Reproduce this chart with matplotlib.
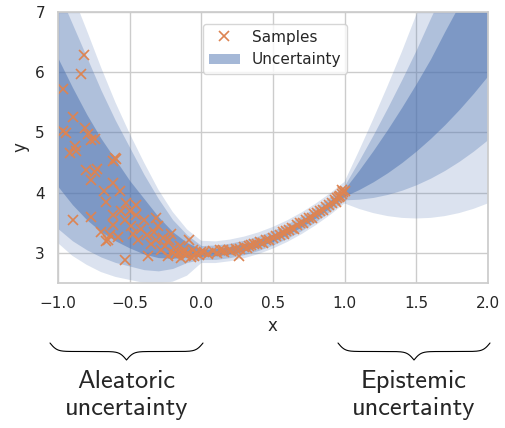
import os
import numpy as np
import matplotlib
matplotlib.use("Agg")
import matplotlib.pyplot as plt
import matplotlib.font_manager as fm
from matplotlib.lines import Line2D
from matplotlib.patches import Patch
import seaborn as sns

# band edges, x grid in steps of 0.1
x_grid = [-1.0, -0.9, -0.8, -0.7, -0.6, -0.5, -0.4, -0.3, -0.2, -0.1, 0.0,
          0.1, 0.2, 0.3, 0.4, 0.5, 0.6, 0.7, 0.8, 0.9, 1.0,
          1.1, 1.2, 1.3, 1.4, 1.5, 1.6, 1.7, 1.8, 1.9, 2.0]

outer_lo = [3.16, 2.95, 2.80, 2.68, 2.60, 2.55, 2.50, 2.49, 2.52, 2.62, 2.83,
            2.83, 2.86, 2.91, 2.98, 3.07, 3.18, 3.31, 3.46, 3.63, 3.82,
            3.73, 3.66, 3.61, 3.58, 3.57, 3.58, 3.61, 3.66, 3.73, 3.82]
outer_hi = [7.75, 7.30, 6.70, 6.08, 5.50, 4.98, 4.50, 4.05, 3.68, 3.39, 3.20,
            3.19, 3.22, 3.27, 3.34, 3.43, 3.54, 3.67, 3.82, 3.99, 4.18,
            4.69, 5.22, 5.77, 6.34, 6.95, 7.54, 8.17, 8.82, 9.49, 10.18]

mid_lo = [3.40, 3.20, 3.05, 2.93, 2.84, 2.78, 2.72, 2.70, 2.74, 2.84, 2.89,
          2.89, 2.92, 2.97, 3.04, 3.13, 3.24, 3.37, 3.52, 3.69, 3.88,
          3.89, 3.92, 3.97, 4.04, 4.13, 4.24, 4.37, 4.52, 4.69, 4.88]
mid_hi = [7.35, 6.80, 6.25, 5.70, 5.20, 4.75, 4.30, 3.90, 3.55, 3.30, 3.12,
          3.13, 3.16, 3.21, 3.28, 3.37, 3.48, 3.61, 3.76, 3.93, 4.12,
          4.53, 4.96, 5.41, 5.88, 6.37, 6.90, 7.41, 7.96, 8.53, 9.12]

inner_lo = [4.10, 3.80, 3.55, 3.35, 3.20, 3.08, 2.98, 2.92, 2.91, 2.93, 2.94,
            2.95, 2.98, 3.03, 3.10, 3.19, 3.30, 3.43, 3.58, 3.75, 3.94,
            4.05, 4.18, 4.33, 4.50, 4.69, 4.90, 5.13, 5.38, 5.65, 5.94]
inner_hi = [6.23, 5.75, 5.30, 4.90, 4.55, 4.20, 3.90, 3.60, 3.35, 3.17, 3.06,
            3.07, 3.10, 3.15, 3.22, 3.31, 3.42, 3.55, 3.70, 3.87, 4.06,
            4.37, 4.70, 5.05, 5.42, 5.81, 6.22, 6.68, 7.12, 7.57, 8.06]

# samples
sample_x = [-0.966, -0.966, -0.943, -0.920, -0.897, -0.897, -0.885, -0.874, -0.838, -0.820,
            -0.815, -0.804, -0.792, -0.770, -0.770, -0.770, -0.745, -0.745, -0.730, -0.699,
            -0.676, -0.664, -0.664, -0.652, -0.640, -0.618, -0.618, -0.618, -0.618, -0.600,
            -0.594, -0.583, -0.571, -0.560, -0.536, -0.536, -0.525, -0.500, -0.490, -0.478,
            -0.455, -0.455, -0.443, -0.420, -0.397, -0.380, -0.374, -0.350, -0.327, -0.316,
            -0.316, -0.300, -0.281, -0.270, -0.257, -0.234, -0.223, -0.211, -0.200, -0.188,
            -0.180, -0.165, -0.150, -0.142, -0.130, -0.120, -0.110, -0.096, -0.084, -0.075,
            -0.060, -0.049, -0.035, -0.014, -0.005,
            0.02, 0.05, 0.08, 0.11, 0.13, 0.15, 0.16, 0.19, 0.21, 0.24,
            0.26, 0.27, 0.30, 0.32, 0.33, 0.35, 0.37, 0.39, 0.41, 0.43,
            0.45, 0.47, 0.50, 0.52, 0.55, 0.57, 0.58, 0.59, 0.61, 0.63,
            0.65, 0.67, 0.69, 0.71, 0.73, 0.75, 0.77, 0.79, 0.81, 0.83,
            0.85, 0.87, 0.89, 0.91, 0.93, 0.94, 0.95, 0.96, 0.97, 0.98,
            0.98, 0.99, 1.00]
sample_y = [5.72, 5.02, 4.99, 4.66, 5.25, 3.55, 4.77, 4.69, 5.97, 6.29,
            5.07, 4.38, 4.98, 4.88, 4.21, 3.59, 4.89, 4.35, 4.40, 3.35,
            4.02, 3.85, 3.19, 3.21, 3.30, 4.52, 4.16, 3.63, 3.47, 4.58,
            4.56, 3.27, 4.02, 3.70, 3.55, 2.88, 3.82, 3.70, 3.45, 3.32,
            3.80, 3.63, 3.21, 3.40, 3.55, 3.30, 2.94, 3.15, 3.35, 3.58,
            3.21, 3.45, 3.05, 3.25, 3.11, 2.94, 3.21, 3.32, 3.00, 3.08,
            2.96, 3.02, 3.12, 2.91, 3.00, 3.05, 2.96, 2.99, 3.21, 2.93,
            3.04, 2.94, 3.00, 2.97, 3.02,
            3.01, 2.98, 3.03, 3.00, 3.04, 3.05, 3.01, 3.05, 3.03, 3.07,
            2.94, 3.06, 3.10, 3.08, 3.12, 3.13, 3.15, 3.14, 3.18, 3.16,
            3.21, 3.22, 3.24, 3.28, 3.30, 3.34, 3.31, 3.36, 3.38, 3.42,
            3.40, 3.46, 3.49, 3.50, 3.55, 3.57, 3.58, 3.64, 3.66, 3.70,
            3.71, 3.76, 3.80, 3.82, 3.87, 3.85, 3.91, 3.93, 3.95, 3.97,
            4.05, 4.01, 4.03]

BLUE = "#4c72b0"
ORANGE = "#dd8452"


def draw_brace(fig, x0, x1, y_top, height, beta=22.0):
    # curly brace in figure pixels, tip pointing down
    w, h = fig.bbox.width, fig.bbox.height
    t = np.linspace(0, 1, 200)
    half = 1 / (1 + np.exp(-beta * t)) + 1 / (1 + np.exp(-beta * (t - 1)))
    shape = np.concatenate([half, half[-2::-1]])
    xs = np.linspace(x0, x1, len(shape))
    ys = y_top + (shape - 0.5) * height
    fig.add_artist(Line2D(xs / w, 1 - ys / h, color="black", lw=0.8,
                          transform=fig.transFigure))


def main():
    sns.set_theme(style="whitegrid")
    fig = plt.figure(figsize=(5.05, 4.28), dpi=100)
    ax = fig.add_axes([0.115, 0.339, 0.851, 0.633])

    ax.fill_between(x_grid, outer_lo, outer_hi, color=BLUE, alpha=0.2, lw=0)
    ax.fill_between(x_grid, mid_lo, mid_hi, color=BLUE, alpha=0.3, lw=0)
    ax.fill_between(x_grid, inner_lo, inner_hi, color=BLUE, alpha=0.5, lw=0)
    ax.plot(sample_x, sample_y, "x", color=ORANGE, ms=7, mew=1.2)

    ax.set_xlim(-1, 2)
    ax.set_ylim(2.5, 7)
    ax.set_yticks([3, 4, 5, 6, 7])
    ax.set_xlabel("x")
    ax.set_ylabel("y")

    handles = [Line2D([], [], marker="x", ls="none", color=ORANGE, ms=7, mew=1.2),
               Patch(facecolor=BLUE, alpha=0.5, lw=0)]
    ax.legend(handles, ["Samples", "Uncertainty"], loc="upper center",
              bbox_to_anchor=(0.505, 0.985), fontsize=11)

    cmss = fm.FontProperties(fname=os.path.join(matplotlib.get_data_path(),
                                                "fonts", "ttf", "cmss10.ttf"),
                             size=19)
    draw_brace(fig, 50, 203, 343, 17)
    draw_brace(fig, 338, 490, 343, 17)
    fig.text(126.5 / 505, 1 - 395 / 428, "Aleatoric\nuncertainty",
             fontproperties=cmss, ha="center", va="center", linespacing=1.2)
    fig.text(414 / 505, 1 - 395 / 428, "Epistemic\nuncertainty",
             fontproperties=cmss, ha="center", va="center", linespacing=1.2)

    fig.savefig("out.png", dpi=100)


if __name__ == "__main__":
    main()
